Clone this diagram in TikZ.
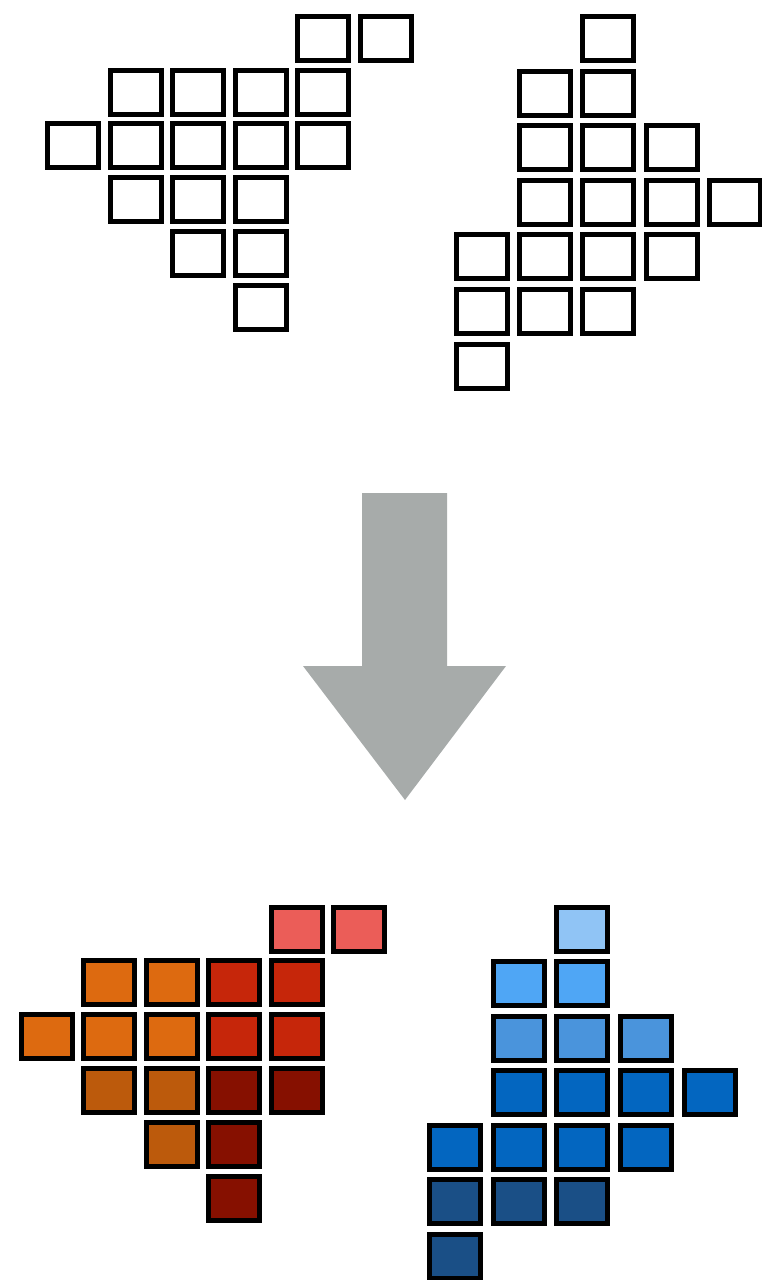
\documentclass[tikz,border=0pt]{standalone}
\definecolor{arrowgray}{HTML}{A7ABAA}
\definecolor{lred}{HTML}{EB5D58}
\definecolor{orng}{HTML}{DD6A10}
\definecolor{redc}{HTML}{C6260A}
\definecolor{dorng}{HTML}{BC5A0C}
\definecolor{dred}{HTML}{861000}
\definecolor{lblue}{HTML}{90C4F5}
\definecolor{bblue}{HTML}{4FA6F5}
\definecolor{mblue}{HTML}{4A94DC}
\definecolor{sblue}{HTML}{0366C0}
\definecolor{dblue}{HTML}{1A4F86}
\begin{document}
\begin{tikzpicture}[x=1pt,y=-1pt,
  cell/.style={draw=black, line width=5pt, minimum width=51pt, minimum height=44pt, inner sep=0pt, outer sep=0pt}]
\useasboundingbox (0,0) rectangle (762,1280);
% top-left group
\foreach \c/\r [count=\i] in {4/0,5/0,1/1,2/1,3/1,4/1,0/2,1/2,2/2,3/2,4/2,1/3,2/3,3/3,2/4,3/4,3/5}
  \node[cell] (tl\i) at ({73+62.6*\c},{38.5+53.7*\r}) {};
% top-right group
\foreach \c/\r [count=\i] in {2/0,1/1,2/1,1/2,2/2,3/2,1/3,2/3,3/3,4/3,0/4,1/4,2/4,3/4,0/5,1/5,2/5,0/6}
  \node[cell] (tr\i) at ({482+63.2*\c},{38.5+54.6*\r}) {};
% arrow
\fill[arrowgray] (362,493) -- (447,493) -- (447,666) -- (506,666) -- (405,800) -- (303,666) -- (362,666) -- cycle;
% bottom-left group
\foreach \c/\r/\col [count=\i] in {4/0/lred,5/0/lred,1/1/orng,2/1/orng,3/1/redc,4/1/redc,0/2/orng,1/2/orng,2/2/orng,3/2/redc,4/2/redc,1/3/dorng,2/3/dorng,3/3/dred,4/3/dred,2/4/dorng,3/4/dred,3/5/dred}
  \node[cell, fill=\col] (bl\i) at ({46.5+62.5*\c},{929+53.8*\r}) {};
% bottom-right group
\foreach \c/\r/\col [count=\i] in {2/0/lblue,1/1/bblue,2/1/bblue,1/2/mblue,2/2/mblue,3/2/mblue,1/3/sblue,2/3/sblue,3/3/sblue,4/3/sblue,0/4/sblue,1/4/sblue,2/4/sblue,3/4/sblue,0/5/dblue,1/5/dblue,2/5/dblue,0/6/dblue}
  \node[cell, fill=\col] (br\i) at ({455+63.7*\c},{929+54.5*\r}) {};
\end{tikzpicture}
\end{document}
